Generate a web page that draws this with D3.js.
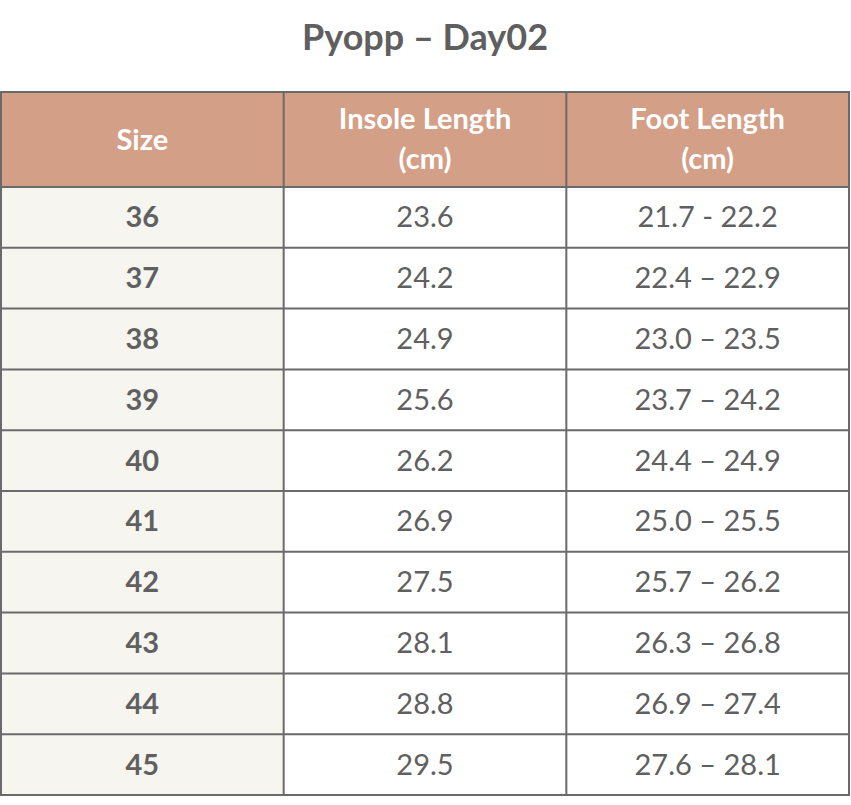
<!DOCTYPE html>
<html><head><meta charset="utf-8">
<script src="https://cdn.jsdelivr.net/npm/d3@7"></script>
<style>body{margin:0;background:#fff}</style></head>
<body><svg id="c" width="851" height="805"></svg>
<script>
const title = "Pyopp – Day02";
const headers = [["Size"], ["Insole Length", "(cm)"], ["Foot Length", "(cm)"]];
const sizes = ["36","37","38","39","40","41","42","43","44","45"];
const insole = ["23.6","24.2","24.9","25.6","26.2","26.9","27.5","28.1","28.8","29.5"];
const foot = ["21.7 - 22.2","22.4 – 22.9","23.0 – 23.5","23.7 – 24.2","24.4 – 24.9","25.0 – 25.5","25.7 – 26.2","26.3 – 26.8","26.9 – 27.4","27.6 – 28.1"];

(function(){
const svg = d3.select("#c");
const font = "Lato, 'Open Sans', sans-serif";
const x = d3.scaleBand().domain([0,1,2]).range([1,849]);
const tableTop = 92, headH = 95, rowH = 60.8;
const y = d3.scaleBand().domain(d3.range(sizes.length)).range([tableTop+headH, tableTop+headH+rowH*sizes.length]);
svg.append("text").attr("x",425).attr("y",50).attr("text-anchor","middle")
  .attr("font-family",font).attr("font-weight",700).attr("font-size",36).attr("fill","#5f5f5f").text(title);
svg.append("rect").attr("x",1).attr("y",tableTop).attr("width",848).attr("height",headH).attr("fill","#d39f87");
headers.forEach((h,i)=>{
  const cx = x(i)+x.bandwidth()/2;
  const t = svg.append("text").attr("text-anchor","middle")
   .attr("font-family",font).attr("font-weight",700).attr("font-size",29).attr("fill","#fff");
  if(h.length===1) t.append("tspan").attr("x",cx).attr("y",tableTop+headH/2+10).text(h[0]);
  else h.forEach((s,j)=>t.append("tspan").attr("x",cx).attr("y",tableTop+37+j*40).text(s));
});
const rows = sizes.map((s,i)=>[s,insole[i],foot[i]]);
rows.forEach((r,i)=>{
  svg.append("rect").attr("x",1).attr("y",y(i)).attr("width",x.bandwidth()).attr("height",rowH).attr("fill","#f6f5f0");
  r.forEach((v,j)=>svg.append("text").attr("x",x(j)+x.bandwidth()/2).attr("y",y(i)+rowH/2+10)
    .attr("text-anchor","middle").attr("font-family",font).attr("font-weight",j===0?700:400)
    .attr("font-size",29).attr("fill","#606060").text(v));
});
const g = svg.append("g").attr("stroke","#6a6a6a").attr("stroke-width",2).attr("fill","none");
const bottom = y.range()[1];
g.append("rect").attr("x",1).attr("y",tableTop).attr("width",848).attr("height",bottom-tableTop);
[1,2].forEach(i=>g.append("line").attr("x1",x(i)).attr("x2",x(i)).attr("y1",tableTop).attr("y2",bottom));
d3.range(sizes.length).forEach(i=>g.append("line").attr("x1",1).attr("x2",849).attr("y1",y(i)).attr("y2",y(i)));
})();
</script></body></html>
